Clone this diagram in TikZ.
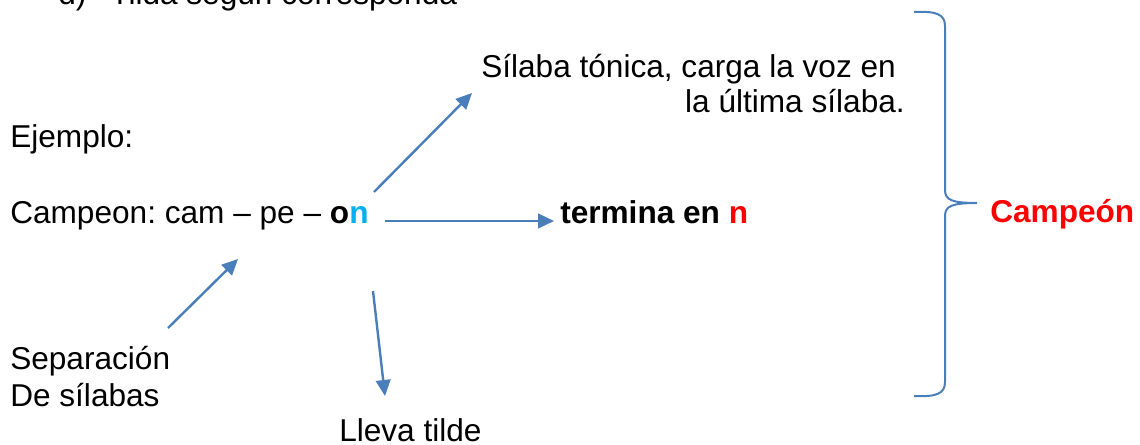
\documentclass[tikz,border=0pt]{standalone}
\usepackage{fontspec}
\setmainfont{Liberation Sans}
\usetikzlibrary{arrows.meta}
\definecolor{azulflecha}{RGB}{74,126,187}
\definecolor{celeste}{RGB}{0,176,240}
\definecolor{rojo}{RGB}{255,0,0}
\frenchspacing
\begin{document}
\begin{tikzpicture}[x=0.75pt,y=-0.75pt,
      every node/.style={inner sep=0pt,anchor=base west,
        font=\fontsize{23.7}{27}\selectfont},
      flecha/.style={draw=azulflecha,line width=1.8pt,
        -{Triangle[length=12pt,width=11pt]}}]
      \useasboundingbox (0,0) rectangle (1140,445);
      % textos
      \path (58,5) node (inciso) {d)\hspace{18pt}Tilda según corresponda};
      \path (481,77.3) node (tonicaA) {Sílaba tónica, carga la voz en};
      \path (905,112.7) node[anchor=base east] (tonicaB) {la última sílaba.};
      \path (10,147.5) node (ejemplo) {Ejemplo:};
      \path (10,224) node (palabra) {Campeon: cam -- pe -- \textbf{o}\textbf{\color{celeste}n}};
      \path (560,224) node (termina) {\textbf{termina en \color{rojo}n}};
      \path (990,222.7) node (campeon) {\textbf{\color{rojo}Campeón}};
      \path (10,370) node (separaA) {Separación};
      \path (10,406.7) node (separaB) {De sílabas};
      \path (339,441.5) node (tilde) {Lleva tilde};
      % flechas
      \coordinate (tonicaCola) at (374,192);
      \coordinate (tonicaPunta) at (472,93);
      \coordinate (terminaCola) at (385,221);
      \coordinate (terminaPunta) at (554,221);
      \coordinate (separaCola) at (168,328);
      \coordinate (separaPunta) at (238,259);
      \coordinate (tildeCola) at (373,291);
      \coordinate (tildePunta) at (385,396);
      \draw[flecha] (tonicaCola)--(tonicaPunta);
      \draw[flecha] (terminaCola)--(terminaPunta);
      \draw[flecha] (separaCola)--(separaPunta);
      \draw[flecha] (tildeCola)--(tildePunta);
      % llave
      \draw[azulflecha,line width=1.5pt] (914,12) .. controls (936,11) and (945,14) .. (945,26)
        -- (945,190) .. controls (945,200) and (952,203) .. (977,203)
        .. controls (952,203) and (945,206) .. (945,216)
        -- (945,382) .. controls (945,394) and (936,397) .. (914,396);
     \end{tikzpicture}
\end{document}
